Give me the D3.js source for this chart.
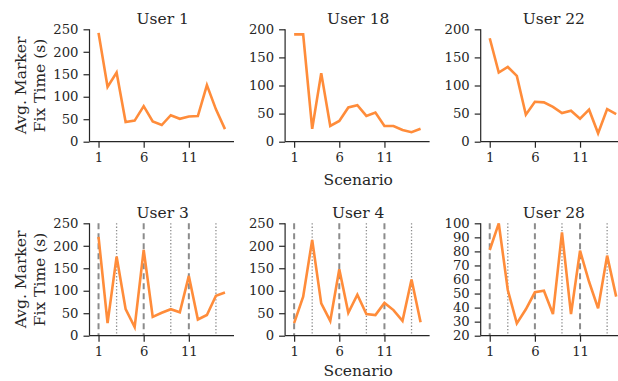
<!DOCTYPE html>
<html>
<head>
<meta charset="utf-8">
<script src="https://cdn.jsdelivr.net/npm/d3@7"></script>
<style>
  body { margin: 0; background: #fff; }
  svg { display: block; font-family: "DejaVu Serif", serif; }
</style>
</head>
<body>
<svg width="618" height="381"></svg>
<script>
// scenario numbers on the x axis
var scenarios = [1, 2, 3, 4, 5, 6, 7, 8, 9, 10, 11, 12, 13, 14, 15];
var xTicks = [1, 6, 11];

// panel titles, row by row
var users = ['User 1', 'User 18', 'User 22', 'User 3', 'User 4', 'User 28'];

// avg. marker fix time (s) per scenario
var user1  = [242, 122, 154, 44, 47, 79, 45, 37, 59, 51, 56, 57, 126, 72, 28];
var user18 = [191, 191, 23, 122, 28, 37, 61, 65, 46, 52, 28, 28, 21, 17, 23];
var user22 = [184, 123, 133, 117, 48, 71, 70, 62, 51, 55, 41, 57, 15, 58, 49];
var user3  = [220, 28, 176, 59, 19, 191, 42, 51, 59, 52, 133, 36, 46, 89, 96];
var user4  = [28, 87, 213, 72, 33, 148, 51, 91, 48, 46, 73, 57, 33, 125, 30];
var user28 = [81, 100, 52.5, 28.8, 38.8, 50.9, 52, 35.4, 93.6, 35.4, 80.5, 58.4, 39.5, 77, 47.8];

// y ticks
var ticks250 = [0, 50, 100, 150, 200, 250];
var ticks200 = [0, 50, 100, 150, 200];
var ticks100 = [20, 30, 40, 50, 60, 70, 80, 90, 100];

// reference lines in bottom row
var dashedAt = [1, 6, 11];
var dottedAt = [3, 9, 14];

var series = [user1, user18, user22, user3, user4, user28];
var yTickSets = [ticks250, ticks200, ticks200, ticks250, ticks250, ticks100];

var svg = d3.select('svg');
var ink = '#262626';
var orange = '#ff8c3a';

var colLeft = [89.5, 285.1, 480.7];
var rowTop = [29.3, 223.3];
var panelW = 144.5;
var panelH = 112.4;

series.forEach(function (vals, i) {
    var row = Math.floor(i / 3), col = i % 3;
    var yt = yTickSets[i];

    var x = d3.scaleLinear().domain([0, 16]).range([0, panelW]);
    var y = d3.scaleLinear().domain([yt[0], yt[yt.length - 1]]).range([panelH, 0]);

    var g = svg.append('g')
        .attr('transform', 'translate(' + colLeft[col] + ',' + rowTop[row] + ')');

    // vertical guide lines (bottom row only)
    if (row === 1) {
        g.selectAll('.dash').data(dashedAt).enter().append('line')
            .attr('x1', d => x(d)).attr('x2', d => x(d))
            .attr('y1', 0).attr('y2', panelH)
            .attr('stroke', '#8c8c8c').attr('stroke-width', 2)
            .attr('stroke-dasharray', '6,4');
        g.selectAll('.dot').data(dottedAt).enter().append('line')
            .attr('x1', d => x(d)).attr('x2', d => x(d))
            .attr('y1', 0).attr('y2', panelH)
            .attr('stroke', '#8c8c8c').attr('stroke-width', 1.3)
            .attr('stroke-dasharray', '1.3,2');
    }

    var line = d3.line()
        .x((d, j) => x(scenarios[j]))
        .y(d => y(d));

    g.append('path')
        .datum(vals)
        .attr('d', line)
        .attr('fill', 'none')
        .attr('stroke', orange)
        .attr('stroke-width', 2.6)
        .attr('stroke-linejoin', 'miter');

    // axes
    var xAxis = g.append('g')
        .attr('transform', 'translate(0,' + panelH + ')')
        .call(d3.axisBottom(x).tickValues(xTicks).tickSize(6).tickPadding(5));
    var yAxis = g.append('g')
        .call(d3.axisLeft(y).tickValues(yt).tickSize(6).tickPadding(5));

    [xAxis, yAxis].forEach(function (a) {
        a.select('.domain').attr('stroke', ink).attr('stroke-width', 1.2);
        a.selectAll('.tick line').attr('stroke', ink).attr('stroke-width', 1.2);
        a.selectAll('.tick text')
            .attr('fill', ink)
            .style('font-family', '"DejaVu Serif", serif')
            .style('font-size', '13.2px');
    });
    // drop the outer tick ends of the domain path
    xAxis.select('.domain').attr('d', 'M0,0H' + panelW);
    yAxis.select('.domain').attr('d', 'M0,0V' + panelH);

    // title
    g.append('text')
        .attr('x', x(8.1))
        .attr('y', -5.5)
        .attr('text-anchor', 'middle')
        .attr('fill', ink)
        .style('font-size', '15.5px')
        .text(users[i]);

    // x label only under the middle column; bottom one nudged up to stay inside
    if (col === 1) {
        g.append('text')
            .attr('x', x(8.1))
            .attr('y', panelH + (row === 0 ? 43 : 40.5))
            .attr('text-anchor', 'middle')
            .attr('fill', ink)
            .style('font-size', '15.5px')
            .text('Scenario');
    }

    if (col === 0) {
        var lab = g.append('text')
            .attr('transform', 'translate(' + (-63.5) + ',' + (panelH / 2) + ') rotate(-90)')
            .attr('text-anchor', 'middle')
            .attr('fill', ink)
            .style('font-size', '15.5px');
        lab.append('tspan').attr('x', 0).attr('y', 0).text('Avg. Marker');
        lab.append('tspan').attr('x', 0).attr('y', 18.5).text('Fix Time (s)');
    }
});
</script>
</body>
</html>
